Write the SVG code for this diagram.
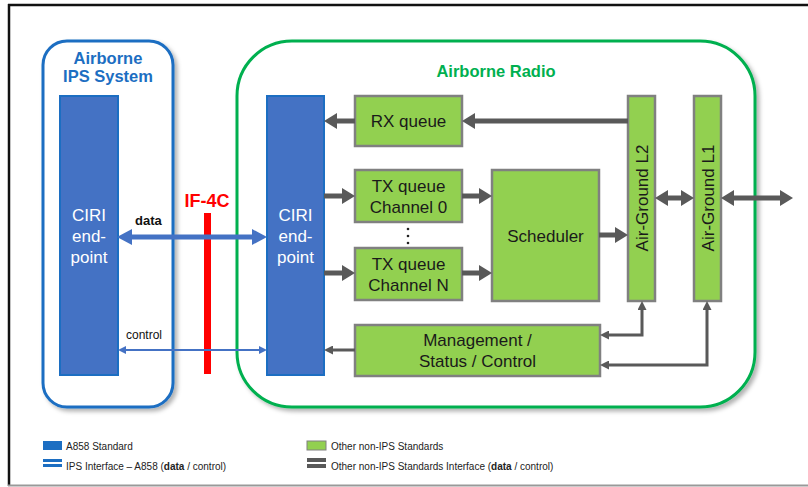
<svg xmlns="http://www.w3.org/2000/svg" width="808" height="487" viewBox="0 0 808 487">
<defs>
<style>
text{font-family:"Liberation Sans",Arial,sans-serif}
.cont{fill:#fff;stroke-width:3}
.ciri{fill:#4472C4;stroke:#1C6EC2;stroke-width:2}
.ciritxt{fill:#fff;font-size:17px;text-anchor:middle}
.gbox{fill:#92D050;stroke:#808080;stroke-width:2.5}
.gtxt{fill:#1a1a1a;font-size:17px;text-anchor:middle}
.thick{stroke:#595959;stroke-width:5;fill:none}
.thin{stroke:#595959;stroke-width:3;fill:none}
.leg{font-size:10px;fill:#222}
.ttl{font-size:16.5px;font-weight:bold;text-anchor:middle}
</style>
<filter id="sh" x="-10%" y="-10%" width="130%" height="130%">
<feDropShadow dx="3" dy="3" stdDeviation="2" flood-color="#000" flood-opacity="0.3"/>
</filter>
<marker id="gh" markerUnits="userSpaceOnUse" markerWidth="14" markerHeight="16" refX="0" refY="8" orient="auto-start-reverse" viewBox="0 0 14 16">
<path d="M0,0 L13,8 L0,16 z" fill="#595959"/>
</marker>
<marker id="gt" markerUnits="userSpaceOnUse" markerWidth="9" markerHeight="9" refX="0" refY="4.5" orient="auto-start-reverse" viewBox="0 0 9 9">
<path d="M0,0 L9,4.5 L0,9 z" fill="#595959"/>
</marker>
<marker id="bh" markerUnits="userSpaceOnUse" markerWidth="16" markerHeight="16" refX="0" refY="8" orient="auto-start-reverse" viewBox="0 0 16 16">
<path d="M0,0 L15,8 L0,16 z" fill="#4472C4"/>
</marker>
<marker id="bt" markerUnits="userSpaceOnUse" markerWidth="8" markerHeight="8" refX="0" refY="4" orient="auto-start-reverse" viewBox="0 0 8 8">
<path d="M0,0 L8,4 L0,8 z" fill="#4472C4"/>
</marker>
</defs>
<rect width="808" height="487" fill="#fff"/>
<g id="frame">
<line x1="8" y1="5" x2="808" y2="5" stroke="#111" stroke-width="2.5"/>
<line x1="9" y1="4" x2="9" y2="486" stroke="#111" stroke-width="2.5"/>
<line x1="8" y1="485.5" x2="808" y2="485.5" stroke="#999" stroke-width="2"/>
</g>
<g id="ips-system">
<rect class="cont" x="43" y="41" width="130" height="366" rx="24" stroke="#1C6EC2" filter="url(#sh)"/>
<text class="ttl" x="108" y="64" fill="#1C6EC2">Airborne</text>
<text class="ttl" x="108" y="82" fill="#1C6EC2">IPS System</text>
</g>
<g id="airborne-radio">
<rect class="cont" x="237" y="41" width="518" height="366" rx="55" stroke="#00B050" filter="url(#sh)"/>
<text class="ttl" x="496" y="77" fill="#00B050">Airborne Radio</text>
</g>
<g id="ciri-left">
<rect class="ciri" x="60" y="96" width="58" height="279"/>
<text class="ciritxt" x="89" y="221">CIRI</text>
<text class="ciritxt" x="89" y="242">end-</text>
<text class="ciritxt" x="89" y="263">point</text>
</g>
<g id="ciri-right">
<rect class="ciri" x="267" y="96" width="57" height="279"/>
<text class="ciritxt" x="295.5" y="221">CIRI</text>
<text class="ciritxt" x="295.5" y="242">end-</text>
<text class="ciritxt" x="295.5" y="263">point</text>
</g>
<g id="if4c">
<text x="207" y="207" font-size="18" font-weight="bold" fill="#FF0000" text-anchor="middle">IF-4C</text>
<rect x="204" y="213" width="7" height="161" fill="#FF0000"/>
</g>
<g id="rx-queue">
<rect class="gbox" x="355" y="96" width="107" height="50"/>
<text class="gtxt" x="408.5" y="127">RX queue</text>
</g>
<g id="tx-queue-0">
<rect class="gbox" x="355" y="170" width="107" height="52"/>
<text class="gtxt" x="408.5" y="192">TX queue</text>
<text class="gtxt" x="408.5" y="213">Channel 0</text>
</g>
<g id="tx-dots">
<circle cx="408" cy="229" r="1.3" fill="#222"/>
<circle cx="408" cy="236" r="1.3" fill="#222"/>
<circle cx="408" cy="243" r="1.3" fill="#222"/>
</g>
<g id="tx-queue-n">
<rect class="gbox" x="355" y="248" width="107" height="52"/>
<text class="gtxt" x="408.5" y="270">TX queue</text>
<text class="gtxt" x="408.5" y="291">Channel N</text>
</g>
<g id="scheduler">
<rect class="gbox" x="492" y="170" width="107" height="131"/>
<text class="gtxt" x="545.5" y="242">Scheduler</text>
</g>
<g id="air-ground-l2">
<rect class="gbox" x="628" y="96" width="27" height="205"/>
<text class="gtxt" transform="translate(647.5,198) rotate(-90)">Air-Ground L2</text>
</g>
<g id="air-ground-l1">
<rect class="gbox" x="694" y="96" width="27" height="205"/>
<text class="gtxt" transform="translate(713.5,198) rotate(-90)">Air-Ground L1</text>
</g>
<g id="management">
<rect class="gbox" x="355" y="325" width="245" height="51"/>
<text class="gtxt" x="477.5" y="346">Management /</text>
<text class="gtxt" x="477.5" y="367">Status / Control</text>
</g>
<g id="connectors">
<line x1="132" y1="237" x2="252" y2="237" stroke="#4472C4" stroke-width="5" marker-start="url(#bh)" marker-end="url(#bh)"/>
<text x="135" y="225" font-size="13" font-weight="bold" fill="#111">data</text>
<line x1="126" y1="350" x2="259" y2="350" stroke="#4472C4" stroke-width="2" marker-start="url(#bt)" marker-end="url(#bt)"/>
<text x="126" y="339" font-size="12" fill="#111">control</text>
<line class="thick" x1="355" y1="121" x2="337" y2="121" marker-end="url(#gh)"/>
<line class="thick" x1="628" y1="121" x2="475" y2="121" marker-end="url(#gh)"/>
<line class="thick" x1="324" y1="196" x2="342" y2="196" marker-end="url(#gh)"/>
<line class="thick" x1="324" y1="273" x2="342" y2="273" marker-end="url(#gh)"/>
<line class="thick" x1="462" y1="196" x2="479" y2="196" marker-end="url(#gh)"/>
<line class="thick" x1="462" y1="273" x2="479" y2="273" marker-end="url(#gh)"/>
<line class="thick" x1="599" y1="235" x2="615" y2="235" marker-end="url(#gh)"/>
<line class="thick" x1="668" y1="198" x2="681" y2="198" marker-start="url(#gh)" marker-end="url(#gh)"/>
<line class="thick" x1="734" y1="198" x2="780" y2="198" marker-start="url(#gh)" marker-end="url(#gh)"/>
<line class="thin" x1="355" y1="350" x2="333" y2="350" marker-end="url(#gt)"/>
<path class="thin" d="M642,310 V335 H609" marker-start="url(#gt)" marker-end="url(#gt)"/>
<path class="thin" d="M707,310 V365 H609" marker-start="url(#gt)" marker-end="url(#gt)"/>
</g>
<g id="legend">
<rect x="43" y="441" width="19" height="9" fill="#1C6EC2"/>
<text class="leg" x="66" y="449.5">A858 Standard</text>
<rect x="43" y="459" width="19" height="3" fill="#1C6EC2"/>
<rect x="43" y="464" width="19" height="3" fill="#1C6EC2"/>
<text class="leg" x="66" y="470">IPS Interface – A858 (<tspan font-weight="bold">data</tspan> / control)</text>
<rect x="307" y="441" width="19" height="9" fill="#92D050" stroke="#808080" stroke-width="1"/>
<text class="leg" x="331" y="449.5">Other non-IPS Standards</text>
<rect x="307" y="458" width="19" height="4" fill="#595959"/>
<rect x="307" y="464" width="19" height="4" fill="#595959"/>
<text class="leg" x="331" y="470">Other non-IPS Standards Interface (<tspan font-weight="bold">data</tspan> / control)</text>
</g>
</svg>
